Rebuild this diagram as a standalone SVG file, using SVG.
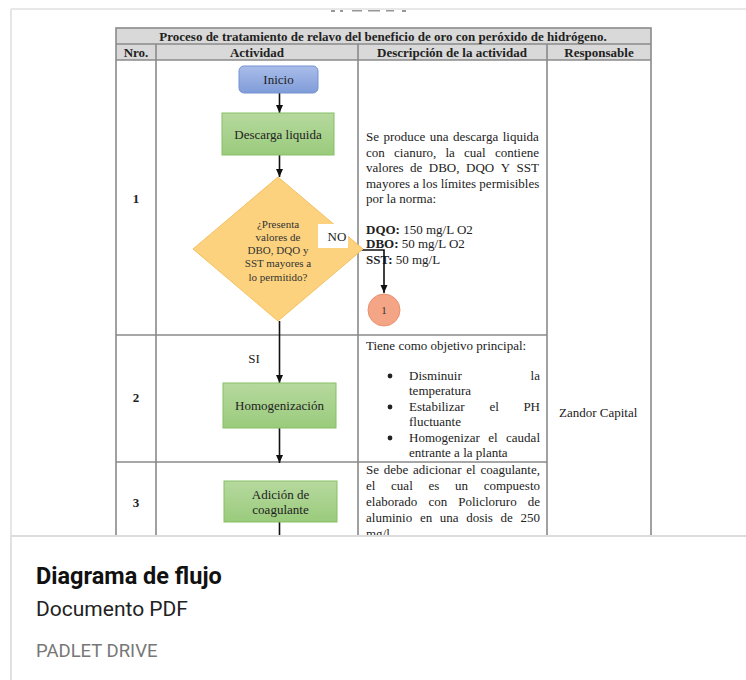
<svg xmlns="http://www.w3.org/2000/svg" width="746" height="680" viewBox="0 0 746 680">
<style>
.t{font-family:"Liberation Serif","Times New Roman",serif;font-size:13px;fill:#222}
.b{font-weight:bold}
.c{text-anchor:middle}
.e{text-anchor:end}
.d{font-size:11px;fill:#333}
.grid{stroke:#8a8a8a;stroke-width:1.6;fill:none}
.conn{stroke:#111;stroke-width:1.6;fill:none}
.card{font-family:Roboto,"Noto Sans",sans-serif}
.bul{fill:#222}
</style>
<defs>
<linearGradient id="gb" x1="0" y1="0" x2="0" y2="1"><stop offset="0" stop-color="#a9bdea"/><stop offset="1" stop-color="#809cd8"/></linearGradient>
<linearGradient id="gg" x1="0" y1="0" x2="0" y2="1"><stop offset="0" stop-color="#b6d99e"/><stop offset="1" stop-color="#9acb7c"/></linearGradient>
<marker id="ah" viewBox="0 0 8 8" refX="8" refY="4" markerWidth="8" markerHeight="8" markerUnits="userSpaceOnUse" orient="auto"><path d="M0,0.5 L8,4 L0,7.5 z" fill="#111"/></marker>
</defs>
<rect width="746" height="680" fill="#fff"/>
<!-- card frame -->
<line x1="11" y1="9" x2="746" y2="9" stroke="#e0e0e0" stroke-width="1.6"/>
<line x1="11" y1="9" x2="11" y2="680" stroke="#e0e0e0" stroke-width="1.6"/>
<g fill="#555" opacity="0.6">
<rect x="331" y="10" width="4" height="2"/><rect x="340" y="10" width="3" height="2"/><rect x="352" y="10" width="10" height="1.5"/><rect x="368" y="10" width="12" height="1.5"/><rect x="386" y="10" width="8" height="1.5"/><rect x="402" y="10" width="4" height="2"/>
</g>
<!-- table -->
<g id="table">
<rect x="116" y="28" width="535" height="32" fill="#d9d9d9"/>
<rect x="116" y="28" width="535" height="520" class="grid"/>
<line x1="116" y1="44" x2="651" y2="44" class="grid"/>
<line x1="116" y1="60" x2="651" y2="60" class="grid"/>
<line x1="156" y1="44" x2="156" y2="548" class="grid"/>
<line x1="358" y1="44" x2="358" y2="548" class="grid"/>
<line x1="547" y1="44" x2="547" y2="548" class="grid"/>
<line x1="116" y1="335" x2="547" y2="335" class="grid"/>
<line x1="116" y1="462" x2="547" y2="462" class="grid"/>
<text x="383" y="40.5" class="t b c" font-size="13.4">Proceso de tratamiento de relavo del beneficio de oro con peróxido de hidrógeno.</text>
<text x="136" y="56.5" class="t b c">Nro.</text>
<text x="257" y="56.5" class="t b c">Actividad</text>
<text x="452" y="56.5" class="t b c">Descripción de la actividad</text>
<text x="599" y="56.5" class="t b c">Responsable</text>
<text x="136" y="203" class="t b c">1</text>
<text x="136" y="402" class="t b c">2</text>
<text x="136" y="507" class="t b c">3</text>
<text x="559" y="417" class="t">Zandor Capital</text>
</g>
<!-- descriptions -->
<g id="desc1" class="t">
<text x="366" y="141" word-spacing="1.2">Se produce una descarga liquida</text>
<text y="157"><tspan x="366">con</tspan><tspan x="394">cianuro,</tspan><tspan x="445.5">la</tspan><tspan x="464">cual</tspan><tspan x="539" text-anchor="end">contiene</tspan></text>
<text y="172"><tspan x="366">valores</tspan><tspan x="410">de</tspan><tspan x="428.8">DBO,</tspan><tspan x="466">DQO</tspan><tspan x="500.7">Y</tspan><tspan x="539" text-anchor="end">SST</tspan></text>
<text x="366" y="188">mayores a los límites permisibles</text>
<text x="366" y="203">por la norma:</text>
<text x="366" y="234"><tspan class="b">DQO:</tspan> 150 mg/L O2</text>
<text x="366" y="248"><tspan class="b">DBO:</tspan> 50 mg/L O2</text>
<text x="366" y="264"><tspan class="b">SST:</tspan> 50 mg/L</text>
</g>
<g id="desc2" class="t">
<text x="366" y="350">Tiene como objetivo principal:</text>
<circle cx="390" cy="376" r="2.4" class="bul"/>
<text x="409" y="380">Disminuir</text><text x="540" y="380" class="e">la</text>
<text x="409" y="395">temperatura</text>
<circle cx="390" cy="407" r="2.4" class="bul"/>
<text y="411"><tspan x="409">Estabilizar</tspan><tspan x="489.5">el</tspan><tspan x="540" text-anchor="end">PH</tspan></text>
<text x="409" y="426">fluctuante</text>
<circle cx="390" cy="438" r="2.4" class="bul"/>
<text y="442"><tspan x="409">Homogenizar</tspan><tspan x="488.2">el</tspan><tspan x="540" text-anchor="end">caudal</tspan></text>
<text x="409" y="457">entrante a la planta</text>
</g>
<g id="desc3" class="t">
<text y="474"><tspan x="366">Se</tspan><tspan x="383.8">debe</tspan><tspan x="413.1">adicionar</tspan><tspan x="466.3">el</tspan><tspan x="540" text-anchor="end">coagulante,</tspan></text>
<text y="490"><tspan x="366">el</tspan><tspan x="391.1">cual</tspan><tspan x="428.5">es</tspan><tspan x="455">un</tspan><tspan x="540" text-anchor="end">compuesto</tspan></text>
<text y="506"><tspan x="366">elaborado</tspan><tspan x="428.4">con</tspan><tspan x="458.2">Policloruro</tspan><tspan x="540" text-anchor="end">de</tspan></text>
<text y="522"><tspan x="366">aluminio</tspan><tspan x="419.9">en</tspan><tspan x="439.8">una</tspan><tspan x="466.2">dosis</tspan><tspan x="500.6">de</tspan><tspan x="540" text-anchor="end">250</tspan></text>
<text x="366" y="538">mg/l.</text>
</g>
<!-- connectors -->
<g id="connectors">
<line x1="279.5" y1="93" x2="279.5" y2="113" class="conn" marker-end="url(#ah)"/>
<line x1="279.5" y1="155" x2="279.5" y2="177" class="conn" marker-end="url(#ah)"/>
<line x1="279.5" y1="321" x2="279.5" y2="383" class="conn" marker-end="url(#ah)"/>
<line x1="279.5" y1="428" x2="279.5" y2="463" class="conn" marker-end="url(#ah)"/>
<line x1="279.5" y1="522" x2="279.5" y2="540" class="conn"/>
<polyline points="358,250 384,250 384,293" class="conn" marker-end="url(#ah)"/>
</g>
<!-- nodes -->
<g id="inicio">
<rect x="239" y="66" width="79" height="27" rx="5" fill="url(#gb)" stroke="#7592d2" stroke-width="1"/>
<text x="278.5" y="84" class="t c">Inicio</text>
</g>
<g id="descarga">
<rect x="222" y="113" width="112" height="42" fill="url(#gg)" stroke="#86bf64" stroke-width="1"/>
<text x="278" y="139" class="t c">Descarga liquida</text>
</g>
<g id="decision">
<polygon points="278,177 363,249 278,321 193,249" fill="#fcd27e" stroke="#f3c060" stroke-width="1"/>
<text x="278" y="228" class="t d c">¿Presenta</text>
<text x="278" y="241" class="t d c">valores de</text>
<text x="278" y="254" class="t d c">DBO, DQO y</text>
<text x="278" y="267" class="t d c">SST mayores a</text>
<text x="278" y="281" class="t d c">lo permitido?</text>
</g>
<g id="label-no">
<rect x="318" y="224" width="30" height="24" fill="#fff"/>
<text x="337" y="241" class="t c">NO</text>
</g>
<g id="label-si">
<text x="254" y="363" class="t c">SI</text>
</g>
<g id="conector1">
<circle cx="384" cy="310" r="16" fill="#f4a586" stroke="#e8926f" stroke-width="1"/>
<text x="384" y="314" class="t d c">1</text>
</g>
<g id="homogenizacion">
<rect x="223" y="383" width="113" height="45" fill="url(#gg)" stroke="#86bf64" stroke-width="1"/>
<text x="279.5" y="410" class="t c">Homogenización</text>
</g>
<g id="adicion">
<rect x="224" y="481" width="113" height="41" fill="url(#gg)" stroke="#86bf64" stroke-width="1"/>
<text x="280.5" y="499" class="t c">Adición de</text>
<text x="280.5" y="514" class="t c">coagulante</text>
</g>
<!-- card bottom -->
<rect x="12" y="536" width="734" height="144" fill="#fff"/>
<line x1="11" y1="536" x2="746" y2="536" stroke="#dcdcdc" stroke-width="2"/>
<line x1="11" y1="536" x2="11" y2="680" stroke="#e0e0e0" stroke-width="1.6"/>
<g class="card">
<text x="36" y="584" font-size="23.5" font-weight="bold" fill="#111">Diagrama de flujo</text>
<text x="36" y="616" font-size="21" fill="#222">Documento PDF</text>
<text x="36" y="657" font-size="18.5" fill="#777">PADLET DRIVE</text>
</g>
</svg>
